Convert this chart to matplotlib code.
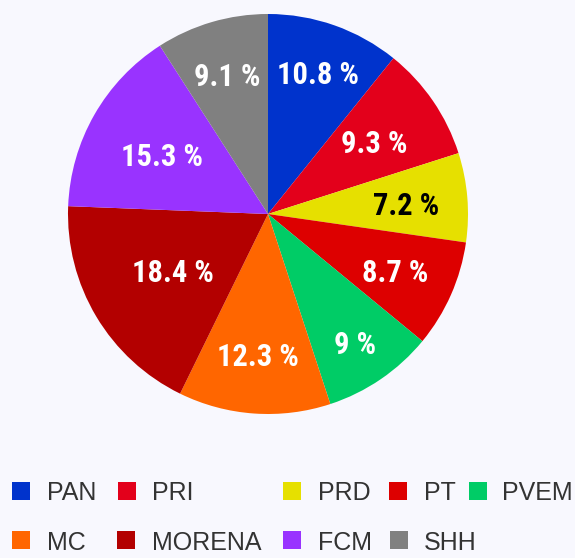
import matplotlib

matplotlib.use("Agg")
import matplotlib.pyplot as plt  # noqa: E402
import numpy as np  # noqa: E402
from matplotlib.patches import Rectangle  # noqa: E402

parties = ["PAN", "PRI", "PRD", "PT", "PVEM", "MC", "MORENA", "FCM", "SHH"]
shares = [10.8, 9.3, 7.2, 8.7, 9.0, 12.3, 18.4, 15.3, 9.1]
colors = ["#0033cc", "#e3001b", "#e6e000", "#dd0000", "#00cc66",
          "#ff6600", "#b30000", "#9933ff", "#808080"]
label_colors = ["white", "white", "black", "white", "white",
                "white", "white", "white", "white"]
# radial position of each percentage label (fraction of radius)
label_r = [0.751, 0.644, 0.691, 0.695, 0.775, 0.702, 0.551, 0.609, 0.728]

BG = "#f8f8fe"
W, H = 575, 558
fig = plt.figure(figsize=(W / 100, H / 100), dpi=100, facecolor=BG)

# pie: center (268, 214) px, radius 200 px
cx, cy, R = 268, 214, 200
ax = fig.add_axes([(cx - R) / W, 1 - (cy + R) / H, 2 * R / W, 2 * R / H])
ax.set_facecolor(BG)
wedges, _ = ax.pie(shares, colors=colors, startangle=90, counterclock=False,
                   radius=1.0, wedgeprops=dict(linewidth=0))
ax.set_xlim(-1, 1)
ax.set_ylim(-1, 1)
ax.set_aspect("equal")
ax.axis("off")

total = sum(shares)
start = 0.0
for v, lc, rr in zip(shares, label_colors, label_r):
    mid = (start + v / 2) / total * 2 * np.pi
    start += v
    ax.text(rr * np.sin(mid), rr * np.cos(mid), f"{v:g} %", ha="center",
            va="center_baseline", color=lc, fontsize=22, fontweight="bold",
            family=["Roboto Condensed", "DejaVu Sans"])

# legend laid out in two flowing rows: (index, marker x, text x) in px
rows = [
    [(0, 12, 47), (1, 118, 152), (2, 283, 318), (3, 389, 424), (4, 469, 502)],
    [(5, 12, 47), (6, 117, 152), (7, 283, 318), (8, 390, 424)],
]
row_y = [491, 540]
sq = 17.5
for row, y in zip(rows, row_y):
    for i, mx, tx in row:
        fig.patches.append(Rectangle((mx / W, 1 - (y + sq / 2) / H), sq / W, sq / H,
                                     transform=fig.transFigure, facecolor=colors[i],
                                     edgecolor="none"))
        fig.text(tx / W, 1 - y / H, parties[i], ha="left", va="center_baseline",
                 fontsize=18, color="#333333",
                 family=["Liberation Sans", "DejaVu Sans"])

fig.savefig("out.png", dpi=100, facecolor=BG)
